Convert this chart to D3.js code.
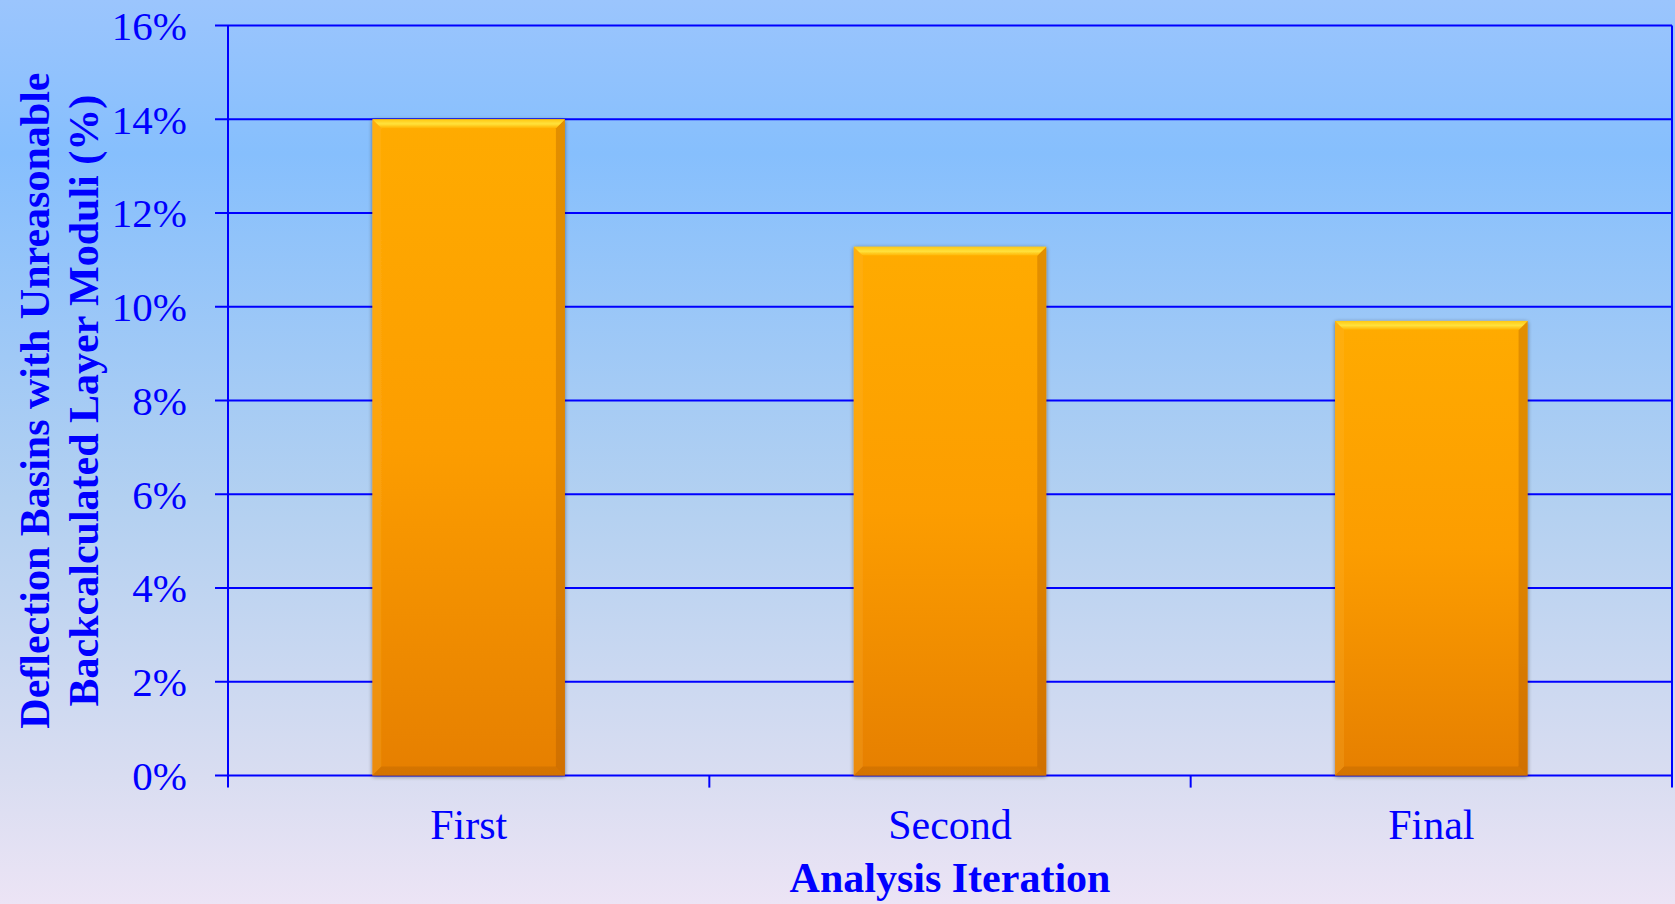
<!DOCTYPE html>
<html>
<head>
<meta charset="utf-8">
<script src="https://cdn.jsdelivr.net/npm/d3@7"></script>
<style>
  html, body { margin: 0; padding: 0; }
  body { width: 1675px; height: 904px; overflow: hidden; }
  svg { display: block; }
</style>
</head>
<body>
<svg id="chart" width="1675" height="904"></svg>
<script>
// ---- data ----
const categories = ["First", "Second", "Final"];
const values = [0.140, 0.1128, 0.097];
const yTicks = [0, 0.02, 0.04, 0.06, 0.08, 0.10, 0.12, 0.14, 0.16];
const xTitle = "Analysis Iteration";
const yTitleLines = ["Deflection Basins with Unreasonable", "Backcalculated Layer Moduli (%)"];

const W = 1675, H = 904;
const margin = { left: 228, right: 3, top: 25.6, bottom: 128.4 };
const innerW = W - margin.left - margin.right;
const innerH = H - margin.top - margin.bottom;
const blue = "#0000ff";
const font = "'Liberation Serif', 'Times New Roman', serif";

const svg = d3.select("#chart");
const defs = svg.append("defs");

// background gradient
const bg = defs.append("linearGradient").attr("id", "bg").attr("x1", 0).attr("y1", 0).attr("x2", 0).attr("y2", 1);
[[0, "#9bc5fd"], [0.17, "#86bffd"], [0.55, "#b2d0f1"], [0.86, "#d9ddf1"], [1, "#ece4f5"]]
  .forEach(([o, c]) => bg.append("stop").attr("offset", o).attr("stop-color", c));
svg.append("rect").attr("width", W).attr("height", H).attr("fill", "url(#bg)");

// bar gradients
const barG = defs.append("linearGradient").attr("id", "barG").attr("x1", 0).attr("y1", 0).attr("x2", 0).attr("y2", 1);
[[0, "#ffab02"], [0.5, "#fc9d03"], [1, "#e67f00"]]
  .forEach(([o, c]) => barG.append("stop").attr("offset", o).attr("stop-color", c));
const topG = defs.append("linearGradient").attr("id", "topG").attr("x1", 0).attr("y1", 0).attr("x2", 0).attr("y2", 1);
[[0, "#ffc814"], [0.5, "#ffe23c"], [1, "#ffb000"]]
  .forEach(([o, c]) => topG.append("stop").attr("offset", o).attr("stop-color", c));

const shadow = defs.append("filter").attr("id", "shadow").attr("x", "-10%").attr("y", "-10%").attr("width", "120%").attr("height", "120%");
shadow.append("feGaussianBlur").attr("in", "SourceAlpha").attr("stdDeviation", 2).attr("result", "b");
shadow.append("feOffset").attr("in", "b").attr("dx", 0).attr("dy", 1).attr("result", "o");
shadow.append("feComponentTransfer").attr("in", "o").attr("result", "s")
  .append("feFuncA").attr("type", "linear").attr("slope", 0.45);
const fm = shadow.append("feMerge");
fm.append("feMergeNode").attr("in", "s");
fm.append("feMergeNode").attr("in", "SourceGraphic");

const g = svg.append("g").attr("transform", `translate(${margin.left},${margin.top})`);

const x = d3.scaleBand().domain(categories).range([0, innerW]).paddingInner(0.6).paddingOuter(0.3);
const xBand = d3.scaleBand().domain(categories).range([0, innerW]);
const y = d3.scaleLinear().domain([0, 0.16]).range([innerH, 0]);

// gridlines
g.append("g").selectAll("line").data(yTicks).join("line")
  .attr("x1", -13).attr("x2", innerW)
  .attr("y1", d => y(d)).attr("y2", d => y(d))
  .attr("stroke", blue).attr("stroke-width", 2);

// y tick labels
g.append("g").selectAll("text").data(yTicks).join("text")
  .attr("x", -41).attr("y", d => y(d)).attr("dy", "0.35em")
  .attr("text-anchor", "end").attr("fill", blue)
  .attr("font-family", font).attr("font-size", 41)
  .text(d3.format(".0%"));

// left axis line & right border
g.append("line").attr("x1", 0).attr("x2", 0).attr("y1", 0).attr("y2", innerH + 12)
  .attr("stroke", blue).attr("stroke-width", 2);
g.append("line").attr("x1", innerW).attr("x2", innerW).attr("y1", 0).attr("y2", innerH + 12)
  .attr("stroke", blue).attr("stroke-width", 2);

// x ticks at band boundaries
const boundaries = categories.map(c => xBand(c)).slice(1);
g.append("g").selectAll("line").data(boundaries).join("line")
  .attr("x1", d => d).attr("x2", d => d).attr("y1", innerH).attr("y2", innerH + 12)
  .attr("stroke", blue).attr("stroke-width", 2);

// bars
const bw = x.bandwidth();
const bev = 9;
const bars = g.append("g").selectAll("g").data(categories.map((c, i) => ({ c, v: values[i] }))).join("g")
  .attr("transform", d => `translate(${x(d.c)},${y(d.v)})`)
  .attr("filter", "url(#shadow)");
bars.append("rect").attr("width", bw).attr("height", d => innerH - y(d.v)).attr("fill", "url(#barG)");
// left bevel
bars.append("polygon").attr("points", d => { const h = innerH - y(d.v); return `0,0 ${bev},${bev} ${bev},${h - bev} 0,${h}`; })
  .attr("fill", "#ffc040").attr("opacity", 0.2);
// right bevel
bars.append("polygon").attr("points", d => { const h = innerH - y(d.v); return `${bw},0 ${bw - bev},${bev} ${bw - bev},${h - bev} ${bw},${h}`; })
  .attr("fill", "#a05000").attr("opacity", 0.3);
// bottom bevel
bars.append("polygon").attr("points", d => { const h = innerH - y(d.v); return `0,${h} ${bev},${h - bev} ${bw - bev},${h - bev} ${bw},${h}`; })
  .attr("fill", "#a05000").attr("opacity", 0.25);
// top bevel
bars.append("polygon").attr("points", `0,0 ${bw},0 ${bw - bev},${bev} ${bev},${bev}`)
  .attr("fill", "url(#topG)");

// x labels
g.append("g").selectAll("text").data(categories).join("text")
  .attr("x", d => x(d) + bw / 2).attr("y", innerH + 49).attr("dy", "0.35em")
  .attr("text-anchor", "middle").attr("fill", blue)
  .attr("font-family", font).attr("font-size", 42)
  .text(d => d);

// x title
svg.append("text").attr("x", margin.left + innerW / 2).attr("y", 877).attr("dy", "0.35em")
  .attr("text-anchor", "middle").attr("fill", blue)
  .attr("font-family", font).attr("font-size", 42).attr("font-weight", "bold")
  .text(xTitle);

// y title
const yt = svg.append("text").attr("transform", `translate(0,${margin.top + innerH / 2}) rotate(-90)`)
  .attr("text-anchor", "middle").attr("fill", blue)
  .attr("font-family", font).attr("font-size", 42).attr("font-weight", "bold");
yTitleLines.forEach((t, i) => yt.append("tspan").attr("x", 0).attr("y", [34, 83][i]).attr("dy", "0.35em").text(t));
</script>
</body>
</html>
